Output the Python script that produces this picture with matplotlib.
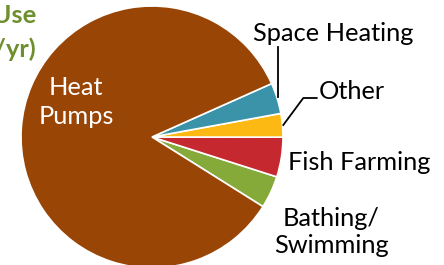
import matplotlib
matplotlib.use("Agg")
import matplotlib.pyplot as plt

plt.rcParams['font.family'] = ['Lato', 'DejaVu Sans']

categories = ["Bathing/\nSwimming", "Fish Farming", "Other", "Space Heating", "Heat\nPumps"]
values = [4.0, 4.9, 2.9, 3.8, 84.4]
colors = ["#86AA3A", "#C5292F", "#FDB913", "#3A93A9", "#984505"]

W, H = 444, 265
fig = plt.figure(figsize=(W / 100, H / 100), dpi=100)
ax = fig.add_axes([0, 0, 1, 1])
cx, cy, r = 152, 137, 131

ax.pie(values, colors=colors, startangle=-32.1, counterclock=True, radius=1.0,
       wedgeprops=dict(edgecolor='white', linewidth=1.2))
ax.set_xlim(-cx / r, (W - cx) / r)
ax.set_ylim(-(H - cy) / r, cy / r)
ax.set_aspect('equal')
ax.axis('off')

def px(x, y):
    return ((x - cx) / r, (cy - y) / r)

fs = 18.3
# inner label
ax.text(*px(76, 102), categories[4], color='white', fontsize=fs, ha='center', va='center',
        linespacing=1.3)
# outer labels
ax.text(*px(333, 33), categories[3], color='black', fontsize=fs, ha='center', va='center')
ax.text(*px(352, 91), categories[2], color='black', fontsize=fs, ha='center', va='center')
ax.text(*px(359, 162), categories[1], color='black', fontsize=fs, ha='center', va='center')
ax.text(*px(331, 232), categories[0], color='black', fontsize=fs, ha='center', va='center',
        linespacing=1.25)

# leader lines
x0, y0 = px(277.7, 47)
x1, y1 = px(277.7, 97)
ax.plot([x0, x1], [y0, y1], color='black', lw=1.3)
a = px(283.3, 125)
b = px(303.3, 98)
c = px(316.7, 98)
ax.plot([a[0], b[0], c[0]], [a[1], b[1], c[1]], color='black', lw=1.3)

# title (partly outside the canvas, as in the reference)
ax.text(*px(36, 15), "Direct Use", color='#6E8F2E', fontsize=fs, fontweight='bold',
        ha='right', va='center')
ax.text(*px(36, 49), "(TJ/yr)", color='#6E8F2E', fontsize=fs, fontweight='bold',
        ha='right', va='center')

fig.savefig("out.png", dpi=100)
